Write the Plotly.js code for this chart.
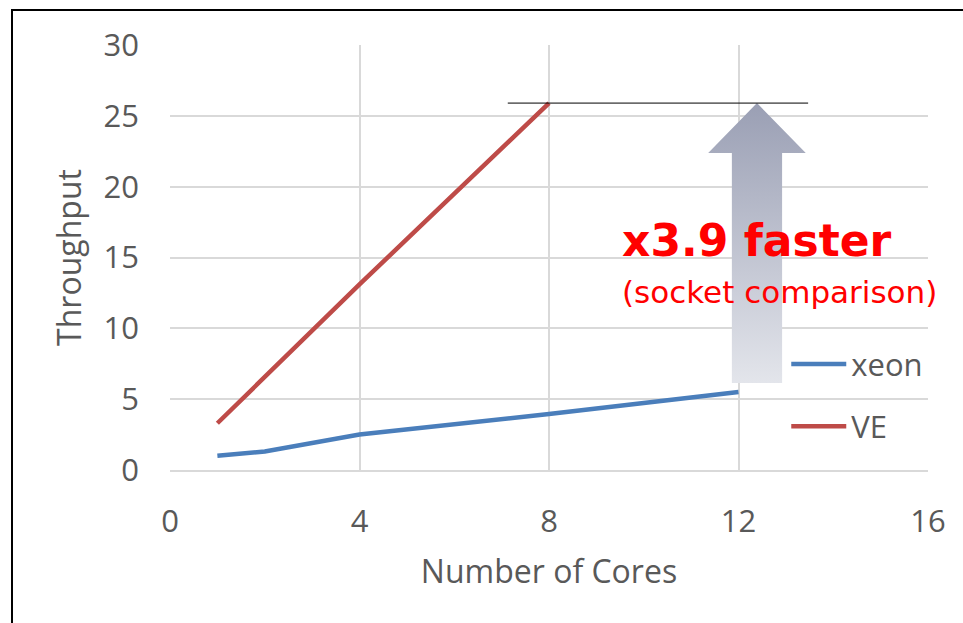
<!DOCTYPE html>
<html>
<head>
<meta charset="utf-8">
<script src="https://cdn.plot.ly/plotly-3.0.1.min.js"></script>
<style>
  html, body { margin: 0; padding: 0; background: #fff; }
  #wrap { position: relative; width: 963px; height: 623px; overflow: hidden; }
  #chart { width: 963px; height: 623px; }
  #frame { position: absolute; left: 11px; top: 9px; width: 1000px; height: 700px;
           border-left: 2px solid #000; border-top: 2px solid #000; pointer-events: none; }
</style>
</head>
<body>
<div id="wrap">
  <div id="chart"></div>
  <div id="frame"></div>
</div>
<script>
// Data
const xeonCores = [1, 2, 4, 8, 12];
const xeonThroughput = [1.0, 1.3, 2.5, 3.95, 5.5];
const veCores = [1, 2, 4, 8];
const veThroughput = [3.3, 6.6, 13.1, 25.9];
const seriesNames = ['xeon', 'VE'];
const xTicks = [0, 4, 8, 12, 16];
const yTicks = [0, 5, 10, 15, 20, 25, 30];
const annotationMain = 'x3.9 faster';
const annotationSub = '(socket comparison)';

// Arrow outline (data units) for the "x3.9" highlight
const arrowX = [11.86, 11.86, 11.36, 12.39, 13.42, 12.92, 12.92, 11.86];
const arrowY = [6.14, 22.37, 22.37, 25.9, 22.37, 22.37, 6.14, 6.14];

const font = '"Open Sans", "Noto Sans", sans-serif';
const noteFont = '"DejaVu Sans", "Open Sans", sans-serif';
const grey = '#595959';

const traces = [
  {
    x: arrowX, y: arrowY, type: 'scatter', mode: 'lines',
    fill: 'toself', line: { width: 0, color: 'rgba(0,0,0,0)' },
    fillgradient: { type: 'vertical', start: arrowY[0], stop: arrowY[3],
      colorscale: [[0, '#e3e5eb'], [1, '#9a9fb4']] },
    showlegend: false, hoverinfo: 'skip', legendgroup: 'arrow'
  },
  {
    x: xeonCores, y: xeonThroughput, name: seriesNames[0], type: 'scatter', mode: 'lines',
    line: { color: '#4a7ebb', width: 4.5 }, legendgroup: 'g1'
  },
  {
    x: veCores, y: veThroughput, name: seriesNames[1], type: 'scatter', mode: 'lines',
    line: { color: '#be4b48', width: 4.5 }, legendgroup: 'g2'
  }
];

const layout = {
  width: 963, height: 623,
  margin: { l: 170, r: 35, t: 45, b: 153 },
  paper_bgcolor: '#fff', plot_bgcolor: '#fff',
  font: { family: font, color: grey, size: 30 },
  xaxis: {
    range: [0, 16], tickvals: xTicks, ticktext: xTicks.map(String),
    showgrid: true, gridcolor: '#d9d9d9', gridwidth: 2,
    zeroline: false, showline: true, linecolor: '#d9d9d9', linewidth: 2,
    ticks: '', ticklen: 0, ticklabelstandoff: 23, tickfont: { size: 31, color: grey },
    title: { text: 'Number of Cores', font: { size: 32, color: grey }, standoff: 20 }
  },
  yaxis: {
    range: [0, 30], tickvals: yTicks, ticktext: yTicks.map(String),
    showgrid: true, gridcolor: '#d9d9d9', gridwidth: 2,
    zeroline: false, showline: false,
    ticks: '', ticklabelstandoff: 30, tickfont: { size: 31, color: grey },
    title: { text: 'Throughput', font: { size: 32, color: grey }, standoff: 12 }
  },
  showlegend: true,
  legend: {
    x: 0.813, xanchor: 'left', y: 0.312, yanchor: 'top',
    bgcolor: 'rgba(255,255,255,0)', font: { size: 31, color: grey },
    traceorder: 'grouped', tracegroupgap: 19, itemwidth: 55
  },
  shapes: [
    { type: 'line', xref: 'x', yref: 'y', x0: 7.13, x1: 13.47, y0: 25.9, y1: 25.9,
      line: { color: '#000', width: 1 }, layer: 'above' }
  ],
  annotations: [
    { xref: 'x', yref: 'y', x: 9.49, y: 16.2, xanchor: 'left', yanchor: 'middle',
      text: '<b>' + annotationMain + '</b>', showarrow: false,
      font: { family: noteFont, size: 44, color: '#ff0000' } },
    { xref: 'x', yref: 'y', x: 9.49, y: 12.6, xanchor: 'left', yanchor: 'middle',
      text: annotationSub, showarrow: false,
      font: { family: noteFont, size: 31, color: '#ff0000' } }
  ]
};

Plotly.newPlot('chart', traces, layout, { displayModeBar: false, staticPlot: true });
</script>
</body>
</html>
